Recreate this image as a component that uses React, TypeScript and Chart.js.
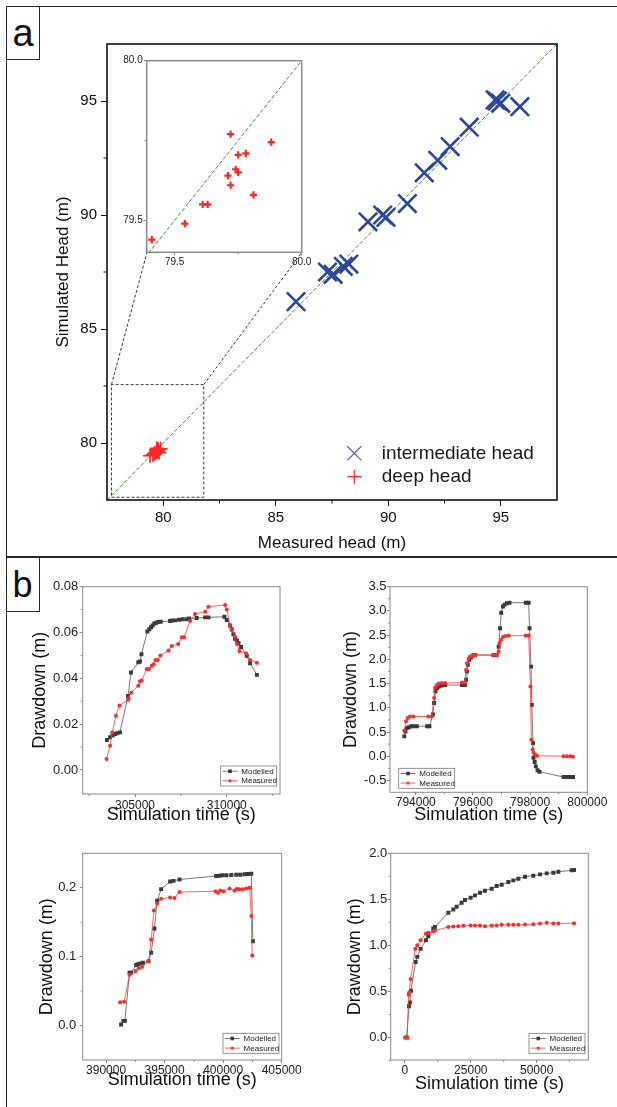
import React, { useEffect, useRef } from 'react';
import { Chart, registerables } from 'chart.js';

Chart.register(...registerables);

const FONT = "'Liberation Sans', Arial, Helvetica, sans-serif";
Chart.defaults.font.family = FONT;

// ---------------- Panel a data ----------------
const intermediateMeasured = [85.9, 87.3, 87.55, 88.0, 88.25, 89.1, 89.75, 89.9, 90.85, 91.6, 92.2, 92.75, 93.6, 94.75, 94.85, 95.0, 95.85];
const intermediateSimulated = [86.2, 87.5, 87.4, 87.75, 87.85, 89.7, 90.0, 89.9, 90.5, 91.85, 92.4, 93.0, 93.85, 95.05, 95.0, 94.9, 94.75];
const deepMeasured = [79.41, 79.54, 79.61, 79.63, 79.72, 79.88, 79.75, 79.78, 79.74, 79.75, 79.71, 79.72, 79.81];
const deepSimulated = [79.44, 79.49, 79.55, 79.55, 79.77, 79.745, 79.705, 79.71, 79.66, 79.65, 79.64, 79.61, 79.58];
const oneToOne = [77.5, 97.5];
const mainRange = [77.5, 97.5];
const mainTicks = [80, 85, 90, 95];
const mainMinor = [82.5, 87.5, 92.5];
const zoomBoxX = [77.7, 81.8];
const zoomBoxY = [77.62, 82.56];
const insetCornerX = [79.28, 86.17];
const insetCornerY = 88.37;
const insetXRange = [79.39, 80.0];
const insetYRange = [79.4, 80.0];
const insetTicks = [79.5, 80.0];
const insetMinor = [79.75];

// ---------------- Panel b data ----------------
const tlModelT = [303470, 303640, 303780, 303910, 304040, 304180, 304620, 304780, 305180, 305270, 305350, 305670, 305780, 305870, 305960, 306050, 306160, 306270, 306400, 306910, 307000, 307180, 307400, 307600, 307820, 307950, 308360, 308820, 309000, 309870, 310000, 310180, 310270, 310360, 310450, 310550, 310640, 310780, 311090, 311270, 311640];
const tlModelD = [0.0131, 0.0143, 0.015, 0.0157, 0.016, 0.0164, 0.0323, 0.0425, 0.047, 0.0473, 0.0505, 0.0604, 0.0614, 0.0623, 0.0631, 0.0639, 0.0643, 0.0646, 0.0647, 0.065, 0.0652, 0.0653, 0.0656, 0.0658, 0.0658, 0.0661, 0.0663, 0.0666, 0.0666, 0.0669, 0.0655, 0.063, 0.0614, 0.0592, 0.0573, 0.0565, 0.0553, 0.0537, 0.0498, 0.0466, 0.0415];
const tlMeasT = [303450, 303640, 303760, 303960, 304150, 304620, 304650, 304800, 305180, 305270, 305360, 305640, 305760, 305910, 306000, 306110, 306240, 306380, 306820, 307000, 307350, 307550, 307670, 308000, 308270, 308820, 309000, 309910, 310000, 310180, 310270, 310450, 310550, 310690, 311050, 311270, 311640];
const tlMeasD = [0.0048, 0.0106, 0.0164, 0.0237, 0.0281, 0.0306, 0.0313, 0.0338, 0.0368, 0.0387, 0.039, 0.0441, 0.0441, 0.0455, 0.0461, 0.048, 0.048, 0.05, 0.0521, 0.0541, 0.055, 0.0579, 0.0579, 0.065, 0.0681, 0.0691, 0.0713, 0.072, 0.0701, 0.0633, 0.0611, 0.0582, 0.055, 0.0519, 0.0509, 0.048, 0.0468];
const tlXTicks = [305000, 310000];
const tlXMinor = [302500, 307500, 312500];
const tlYTicks = [0, 0.02, 0.04, 0.06, 0.08];
const tlYMinor = [0.01, 0.03, 0.05, 0.07];

const trModelT = [793600, 793640, 793690, 793760, 793840, 793920, 794040, 794400, 794480, 794600, 794640, 794690, 794740, 794810, 794910, 795030, 795620, 795720, 795760, 795790, 795820, 795870, 795930, 796000, 796080, 796720, 796830, 796900, 796950, 796990, 797050, 797110, 797190, 797280, 797850, 797950, 797980, 798030, 798060, 798100, 798120, 798160, 798200, 798260, 798330, 799170, 799290, 799410, 799500];
const trModelD = [0.41, 0.51, 0.58, 0.6, 0.62, 0.62, 0.62, 0.62, 0.62, 0.86, 1.1, 1.34, 1.41, 1.44, 1.46, 1.47, 1.47, 1.47, 1.58, 1.75, 1.89, 1.99, 2.04, 2.08, 2.09, 2.09, 2.09, 2.26, 2.64, 2.96, 3.09, 3.13, 3.16, 3.17, 3.17, 3.17, 2.64, 1.85, 1.06, 0.27, -0.03, -0.12, -0.21, -0.29, -0.32, -0.43, -0.43, -0.43, -0.43];
const trMeasT = [793600, 793660, 793720, 793800, 793920, 794440, 794560, 794640, 794680, 794740, 794810, 794910, 795030, 795620, 795720, 795760, 795790, 795850, 795900, 795990, 796080, 796720, 796830, 796900, 796930, 796980, 797050, 797130, 797250, 797850, 797950, 798010, 798040, 798090, 798120, 798180, 798240, 799170, 799290, 799410, 799500];
const trMeasD = [0.53, 0.72, 0.79, 0.82, 0.82, 0.82, 0.82, 1.2, 1.42, 1.47, 1.5, 1.51, 1.51, 1.52, 1.52, 1.78, 1.92, 2.02, 2.06, 2.08, 2.09, 2.09, 2.09, 2.16, 2.33, 2.4, 2.46, 2.48, 2.49, 2.49, 2.49, 1.44, 0.34, 0.14, 0.07, 0.03, 0.01, 0.0, 0.0, 0.0, -0.01];
const trXTicks = [794000, 796000, 798000, 800000];
const trXMinor = [795000, 797000, 799000];
const trYTicks = [-0.5, 0, 0.5, 1, 1.5, 2, 2.5, 3, 3.5];
const trYMinor = [-0.25, 0.25, 0.75, 1.25, 1.75, 2.25, 2.75, 3.25];

const blModelT = [391280, 391480, 391600, 392000, 392140, 392570, 392710, 392910, 393140, 393620, 393850, 394130, 394360, 394700, 395470, 395760, 396270, 399400, 399690, 399920, 400260, 400690, 401120, 401460, 401830, 402110, 402400, 402540];
const blModelD = [0.0015, 0.0068, 0.0068, 0.0765, 0.0765, 0.088, 0.089, 0.09, 0.091, 0.0935, 0.1056, 0.141, 0.181, 0.198, 0.209, 0.21, 0.212, 0.217, 0.2175, 0.218, 0.218, 0.2185, 0.219, 0.219, 0.2195, 0.22, 0.2203, 0.1225];
const blMeasT = [391200, 391540, 392000, 392510, 392790, 393080, 393620, 393850, 394080, 394360, 394700, 395470, 395840, 396270, 399350, 399550, 399750, 400030, 400550, 400970, 401170, 401400, 401690, 401970, 402260, 402400, 402480];
const blMeasD = [0.0339, 0.0344, 0.0736, 0.079, 0.0833, 0.0852, 0.093, 0.125, 0.167, 0.177, 0.184, 0.186, 0.185, 0.1937, 0.195, 0.1927, 0.196, 0.195, 0.199, 0.196, 0.1985, 0.198, 0.198, 0.199, 0.2, 0.159, 0.1017];
const blXTicks = [390000, 395000, 400000, 405000];
const blXMinor = [392500, 397500, 402500];
const blYTicks = [0, 0.1, 0.2];
const blYMinor = [0.05, 0.15];

const brModelT = [630, 1520, 1900, 2280, 4050, 4680, 5950, 7980, 8860, 10760, 11390, 16460, 18360, 19620, 21520, 22790, 24940, 26590, 28490, 30380, 32920, 34820, 36710, 39250, 41150, 43040, 45580, 48740, 51270, 53810, 56340, 58240, 63300, 64190];
const brModelD = [0, 0.338, 0.38, 0.508, 0.82, 0.875, 0.962, 1.056, 1.1, 1.183, 1.2, 1.354, 1.39, 1.419, 1.463, 1.492, 1.517, 1.543, 1.572, 1.594, 1.615, 1.644, 1.659, 1.688, 1.706, 1.724, 1.746, 1.757, 1.771, 1.782, 1.789, 1.8, 1.815, 1.818];
const brMeasT = [0, 890, 1390, 1650, 2150, 3930, 4680, 5950, 7980, 8990, 10760, 11390, 16460, 18360, 20250, 22150, 24940, 26590, 28490, 30380, 32920, 34820, 36710, 39250, 41150, 43040, 45580, 48740, 51270, 53810, 56340, 58240, 64190];
const brMeasD = [0, 0, 0.465, 0.49, 0.635, 0.962, 1.0, 1.056, 1.129, 1.136, 1.154, 1.161, 1.2, 1.205, 1.209, 1.212, 1.216, 1.216, 1.216, 1.209, 1.216, 1.216, 1.223, 1.223, 1.223, 1.223, 1.227, 1.23, 1.238, 1.245, 1.238, 1.238, 1.241];
const brXTicks = [0, 25000, 50000];
const brXMinor = [12500, 37500, 62500];
const brYTicks = [0, 0.5, 1, 1.5, 2];
const brYMinor = [-0.25, 0.25, 0.75, 1.25, 1.75];

// ---------------- styles ----------------
const BLUE = '#2c46a0';
const RED = '#ff2626';
const GREEN = '#3f8f3f';
const MODEL = '#3a3a3a';
const MEAS = '#ff2a2a';

type Pt = { x: number; y: number };
const zip = (xs: number[], ys: number[]): Pt[] => xs.map((x, i) => ({ x, y: ys[i] }));

interface AxisSpec {
  pos: 'left' | 'bottom';
  min: number;
  max: number;
  ticks: number[];
  fmt: (v: number) => string;
  size: number;
  fontSize: number;
  tickLen: number;
  pad: number;
  tickColor: string;
  labelColor: string;
  title?: string;
  titleSize?: number;
  titlePad?: number;
}

function axis(a: AxisSpec): any {
  const horizontal = a.pos === 'bottom';
  return {
    type: 'linear',
    position: a.pos,
    min: a.min,
    max: a.max,
    afterBuildTicks: (s: any) => {
      s.ticks = a.ticks.map((v) => ({ value: v }));
    },
    afterFit: (s: any) => {
      if (horizontal) s.height = a.size;
      else s.width = a.size;
    },
    ticks: {
      autoSkip: false,
      maxRotation: 0,
      minRotation: 0,
      padding: a.pad,
      color: a.labelColor,
      font: { size: a.fontSize, family: FONT },
      callback: (v: any) => a.fmt(Number(v)),
    },
    grid: { drawOnChartArea: false, drawTicks: true, tickLength: a.tickLen, color: a.tickColor, lineWidth: 1 },
    border: { display: false },
    title: a.title
      ? {
          display: true,
          text: a.title,
          color: '#111',
          font: { size: a.titleSize, family: FONT },
          padding: horizontal ? { top: 0, bottom: a.titlePad } : { top: a.titlePad, bottom: 0 },
        }
      : { display: false },
  };
}

function framePlugin(o: { color: string; width: number; fill?: string; minorX: number[]; minorY: number[]; minorLen: number; minorColor: string }) {
  return {
    id: 'frame',
    beforeDraw(chart: any) {
      if (!o.fill) return;
      const { left, top, width, height } = chart.chartArea;
      const ctx = chart.ctx;
      ctx.save();
      ctx.fillStyle = o.fill;
      ctx.fillRect(left, top, width, height);
      ctx.restore();
    },
    afterDraw(chart: any) {
      const { left, top, right, bottom } = chart.chartArea;
      const ctx = chart.ctx;
      ctx.save();
      ctx.strokeStyle = o.minorColor;
      ctx.lineWidth = 1;
      ctx.beginPath();
      o.minorX.forEach((v) => {
        const p = chart.scales.x.getPixelForValue(v);
        ctx.moveTo(p, bottom);
        ctx.lineTo(p, bottom + o.minorLen);
      });
      o.minorY.forEach((v) => {
        const p = chart.scales.y.getPixelForValue(v);
        ctx.moveTo(left, p);
        ctx.lineTo(left - o.minorLen, p);
      });
      ctx.stroke();
      ctx.strokeStyle = o.color;
      ctx.lineWidth = o.width;
      ctx.strokeRect(left, top, right - left, bottom - top);
      ctx.restore();
    },
  };
}

function headLegend(o: { x: number; y: number; gap: number; textDx: number; fontSize: number; items: { ds: number; style: 'x' | '+'; r: number; w: number; color: string }[] }) {
  return {
    id: 'headLegend',
    afterDraw(chart: any) {
      const ctx = chart.ctx;
      ctx.save();
      ctx.font = `${o.fontSize}px ${FONT}`;
      ctx.textBaseline = 'middle';
      ctx.textAlign = 'left';
      o.items.forEach((it, i) => {
        const cx = o.x;
        const cy = o.y + i * o.gap;
        ctx.strokeStyle = it.color;
        ctx.lineWidth = it.w;
        ctx.beginPath();
        if (it.style === 'x') {
          const d = it.r * Math.SQRT1_2;
          ctx.moveTo(cx - d, cy - d);
          ctx.lineTo(cx + d, cy + d);
          ctx.moveTo(cx - d, cy + d);
          ctx.lineTo(cx + d, cy - d);
        } else {
          ctx.moveTo(cx - it.r, cy);
          ctx.lineTo(cx + it.r, cy);
          ctx.moveTo(cx, cy - it.r);
          ctx.lineTo(cx, cy + it.r);
        }
        ctx.stroke();
        ctx.fillStyle = '#1a1a1a';
        ctx.fillText(chart.data.datasets[it.ds].label, cx + o.textDx, cy);
      });
      ctx.restore();
    },
  };
}

function subLegend(o: { corner: 'br' | 'bl'; dx: number; dy: number }) {
  return {
    id: 'subLegend',
    afterDraw(chart: any) {
      const { ctx, chartArea } = chart;
      const w = 56;
      const h = 20;
      const x0 = o.corner === 'br' ? chartArea.right - o.dx - w : chartArea.left + o.dx;
      const y0 = chartArea.bottom - o.dy - h;
      ctx.save();
      ctx.fillStyle = '#fff';
      ctx.fillRect(x0, y0, w, h);
      ctx.strokeStyle = '#7a7a7a';
      ctx.lineWidth = 0.8;
      ctx.strokeRect(x0, y0, w, h);
      ctx.font = `8px ${FONT}`;
      ctx.textBaseline = 'middle';
      ctx.textAlign = 'left';
      chart.data.datasets.forEach((ds: any, i: number) => {
        const y = y0 + 5.2 + i * 9.6;
        ctx.strokeStyle = ds.borderColor;
        ctx.lineWidth = 0.8;
        ctx.beginPath();
        ctx.moveTo(x0 + 1.8, y);
        ctx.lineTo(x0 + 16.8, y);
        ctx.stroke();
        ctx.fillStyle = ds.pointBackgroundColor;
        ctx.beginPath();
        if (ds.pointStyle === 'rect') ctx.rect(x0 + 9.3 - 1.8, y - 1.8, 3.6, 3.6);
        else ctx.arc(x0 + 9.3, y, 1.6, 0, Math.PI * 2);
        ctx.fill();
        ctx.fillStyle = '#222';
        ctx.fillText(ds.label, x0 + 20.6, y + 0.3);
      });
      ctx.restore();
    },
  };
}

function mainConfig(): any {
  const box = [
    { x: zoomBoxX[0], y: zoomBoxY[0] },
    { x: zoomBoxX[1], y: zoomBoxY[0] },
    { x: zoomBoxX[1], y: zoomBoxY[1] },
    { x: zoomBoxX[0], y: zoomBoxY[1] },
    { x: zoomBoxX[0], y: zoomBoxY[0] },
  ];
  const dashed = { showLine: true, pointRadius: 0, borderColor: '#3a3a3a', borderWidth: 1, borderDash: [3, 2], order: 6 };
  return {
    type: 'scatter',
    data: {
      datasets: [
        { label: 'intermediate head', data: zip(intermediateMeasured, intermediateSimulated), pointStyle: 'crossRot', pointRadius: 13, pointBorderWidth: 2.6, borderWidth: 2.6, borderColor: BLUE, backgroundColor: BLUE, order: 0 },
        { label: 'deep head', data: zip(deepMeasured, deepSimulated), pointStyle: 'cross', pointRadius: 7, pointBorderWidth: 1.7, borderWidth: 1.7, borderColor: RED, backgroundColor: RED, order: 1 },
        { label: '1:1', data: oneToOne.map((v) => ({ x: v, y: v })), showLine: true, pointRadius: 0, borderColor: GREEN, borderWidth: 1, borderDash: [4, 2], order: 5 },
        { label: 'zoom', data: box, ...dashed },
        { label: 'c1', data: [{ x: zoomBoxX[0], y: zoomBoxY[1] }, { x: insetCornerX[0], y: insetCornerY }], ...dashed },
        { label: 'c2', data: [{ x: zoomBoxX[1], y: zoomBoxY[1] }, { x: insetCornerX[1], y: insetCornerY }], ...dashed },
      ],
    },
    options: {
      responsive: false,
      animation: false,
      devicePixelRatio: 1,
      events: [],
      layout: { padding: { left: 0, top: 44, right: 60, bottom: 0 } },
      plugins: { legend: { display: false }, tooltip: { enabled: false } },
      scales: {
        x: axis({ pos: 'bottom', min: mainRange[0], max: mainRange[1], ticks: mainTicks, fmt: (v) => String(v), size: 56, fontSize: 15, tickLen: 6, pad: 2.5, tickColor: '#111', labelColor: '#111', title: 'Measured head (m)', titleSize: 17, titlePad: 2.8 }),
        y: axis({ pos: 'left', min: mainRange[0], max: mainRange[1], ticks: mainTicks, fmt: (v) => String(v), size: 107, fontSize: 15, tickLen: 6, pad: 4, tickColor: '#111', labelColor: '#111', title: 'Simulated Head (m)', titleSize: 17, titlePad: 52.8 }),
      },
    },
    plugins: [
      framePlugin({ color: '#111', width: 1.6, minorX: mainMinor, minorY: mainMinor, minorLen: 3.5, minorColor: '#111' }),
      headLegend({
        x: 354.3,
        y: 453.3,
        gap: 23.4,
        textDx: 27.4,
        fontSize: 19,
        items: [
          { ds: 0, style: 'x', r: 10, w: 1.2, color: '#4a5cc4' },
          { ds: 1, style: '+', r: 7, w: 1.2, color: RED },
        ],
      }),
    ],
  };
}

function insetConfig(): any {
  return {
    type: 'scatter',
    data: {
      datasets: [
        { label: 'deep head', data: zip(deepMeasured, deepSimulated), pointStyle: 'cross', pointRadius: 3.6, pointBorderWidth: 2.2, borderWidth: 2.2, borderColor: RED, backgroundColor: RED, order: 0 },
        { label: '1:1', data: oneToOne.map((v) => ({ x: v, y: v })), showLine: true, pointRadius: 0, borderColor: GREEN, borderWidth: 1, borderDash: [4, 2], order: 5 },
      ],
    },
    options: {
      responsive: false,
      animation: false,
      devicePixelRatio: 1,
      events: [],
      layout: { padding: { left: 0, top: 10.7, right: 18.3, bottom: 0 } },
      plugins: { legend: { display: false }, tooltip: { enabled: false } },
      scales: {
        x: axis({ pos: 'bottom', min: insetXRange[0], max: insetXRange[1], ticks: insetTicks, fmt: (v) => v.toFixed(1), size: 19.7, fontSize: 10, tickLen: 3, pad: 1, tickColor: '#888', labelColor: '#222' }),
        y: axis({ pos: 'left', min: insetYRange[0], max: insetYRange[1], ticks: insetTicks, fmt: (v) => v.toFixed(1), size: 36.7, fontSize: 10, tickLen: 3, pad: 1, tickColor: '#888', labelColor: '#222' }),
      },
    },
    plugins: [framePlugin({ color: '#8a8a8a', width: 1.5, fill: '#ffffff', minorX: insetMinor, minorY: insetMinor, minorLen: 2, minorColor: '#888' })],
  };
}

interface SubSpec {
  modelT: number[];
  modelD: number[];
  measT: number[];
  measD: number[];
  xMin: number;
  xMax: number;
  yMin: number;
  yMax: number;
  xTicks: number[];
  xMinor: number[];
  yTicks: number[];
  yMinor: number[];
  yFmt: (v: number) => string;
  padTop: number;
  padRight: number;
  yWidth: number;
  xHeight: number;
  yPad: number;
  xPad: number;
  yTitlePad: number;
  xTitlePad: number;
  legend: { corner: 'br' | 'bl'; dx: number; dy: number };
}

function subConfig(s: SubSpec): any {
  return {
    type: 'scatter',
    data: {
      datasets: [
        { label: 'Modelled', data: zip(s.modelT, s.modelD), showLine: true, borderColor: '#555555', borderWidth: 0.8, pointStyle: 'rect', pointRadius: 2.8, pointBackgroundColor: MODEL, pointBorderColor: MODEL, pointBorderWidth: 0, order: 1 },
        { label: 'Measured', data: zip(s.measT, s.measD), showLine: true, borderColor: '#ff3b3b', borderWidth: 0.8, pointStyle: 'circle', pointRadius: 2, pointBackgroundColor: MEAS, pointBorderColor: MEAS, pointBorderWidth: 0, order: 0 },
      ],
    },
    options: {
      responsive: false,
      animation: false,
      devicePixelRatio: 1,
      events: [],
      layout: { padding: { left: 0, top: s.padTop, right: s.padRight, bottom: 0 } },
      plugins: { legend: { display: false }, tooltip: { enabled: false } },
      scales: {
        x: axis({ pos: 'bottom', min: s.xMin, max: s.xMax, ticks: s.xTicks, fmt: (v) => String(v), size: s.xHeight, fontSize: 12, tickLen: 3, pad: s.xPad, tickColor: '#888', labelColor: '#222', title: 'Simulation time (s)', titleSize: 18, titlePad: s.xTitlePad }),
        y: axis({ pos: 'left', min: s.yMin, max: s.yMax, ticks: s.yTicks, fmt: s.yFmt, size: s.yWidth, fontSize: 13, tickLen: 3, pad: s.yPad, tickColor: '#888', labelColor: '#222', title: 'Drawdown (m)', titleSize: 18, titlePad: s.yTitlePad }),
      },
    },
    plugins: [
      framePlugin({ color: '#8a8a8a', width: 1, minorX: s.xMinor, minorY: s.yMinor, minorLen: 2, minorColor: '#888' }),
      subLegend(s.legend),
    ],
  };
}

function ChartBox(props: { left: number; top: number; width: number; height: number; build: () => any }) {
  const ref = useRef<HTMLCanvasElement | null>(null);
  useEffect(() => {
    if (!ref.current) return;
    const chart = new Chart(ref.current, props.build());
    return () => chart.destroy();
  }, []);
  return (
    <canvas
      ref={ref}
      width={props.width}
      height={props.height}
      style={{ position: 'absolute', left: props.left, top: props.top, width: props.width, height: props.height }}
    />
  );
}

const LINE = '#2a2a2a';

export default function App() {
  return (
    <div style={{ position: 'absolute', left: 0, top: 0, width: 617, height: 1107, overflow: 'hidden', background: '#fff', fontFamily: FONT }}>
      <div style={{ position: 'absolute', left: 6, top: 6, width: 700, height: 1200, border: `1.5px solid ${LINE}`, boxSizing: 'border-box' }} />
      <div style={{ position: 'absolute', left: 6, top: 556.3, width: 700, height: 2, background: LINE }} />
      <div style={{ position: 'absolute', left: 6, top: 6, width: 34, height: 54, border: `1.5px solid ${LINE}`, boxSizing: 'border-box' }} />
      <div style={{ position: 'absolute', left: 6, top: 556.3, width: 34, height: 56, border: `1.5px solid ${LINE}`, boxSizing: 'border-box' }} />
      <span style={{ position: 'absolute', left: 12.6, top: 14, fontSize: 38, lineHeight: '38px', color: '#111' }}>a</span>
      <span style={{ position: 'absolute', left: 12.6, top: 566.8, fontSize: 36, lineHeight: '36px', color: '#111' }}>b</span>

      <ChartBox left={0} top={0} width={617} height={556} build={mainConfig} />
      <ChartBox left={110} top={50} width={210} height={222} build={insetConfig} />

      <ChartBox
        left={10}
        top={570}
        width={290}
        height={260}
        build={() =>
          subConfig({
            modelT: tlModelT, modelD: tlModelD, measT: tlMeasT, measD: tlMeasD,
            xMin: 302150, xMax: 312900, yMin: -0.0105, yMax: 0.08,
            xTicks: tlXTicks, xMinor: tlXMinor, yTicks: tlYTicks, yMinor: tlYMinor,
            yFmt: (v) => v.toFixed(2),
            padTop: 16.7, padRight: 20, yWidth: 72.7, xHeight: 36,
            yPad: 1.5, xPad: 1.3, yTitlePad: 19.2, xTitlePad: 3.7,
            legend: { corner: 'br', dx: 3.3, dy: 8 },
          })
        }
      />
      <ChartBox
        left={310}
        top={570}
        width={305}
        height={260}
        build={() =>
          subConfig({
            modelT: trModelT, modelD: trModelD, measT: trMeasT, measD: trMeasD,
            xMin: 793100, xMax: 800000, yMin: -0.745, yMax: 3.5,
            xTicks: trXTicks, xMinor: trXMinor, yTicks: trYTicks, yMinor: trYMinor,
            yFmt: (v) => v.toFixed(1),
            padTop: 16.7, padRight: 27.7, yWidth: 80, xHeight: 37.7,
            yPad: 0.5, xPad: 0.5, yTitlePad: 30.2, xTitlePad: 3.7,
            legend: { corner: 'bl', dx: 8.7, dy: 4 },
          })
        }
      />
      <ChartBox
        left={10}
        top={836}
        width={295}
        height={265}
        build={() =>
          subConfig({
            modelT: blModelT, modelD: blModelD, measT: blMeasT, measD: blMeasD,
            xMin: 388000, xMax: 405000, yMin: -0.05, yMax: 0.25,
            xTicks: blXTicks, xMinor: blXMinor, yTicks: blYTicks, yMinor: blYMinor,
            yFmt: (v) => v.toFixed(1),
            padTop: 17.3, padRight: 23.3, yWidth: 72.7, xHeight: 41,
            yPad: 3.5, xPad: 0.3, yTitlePad: 26.2, xTitlePad: 10.2,
            legend: { corner: 'br', dx: 2.7, dy: 6.7 },
          })
        }
      />
      <ChartBox
        left={310}
        top={836}
        width={305}
        height={265}
        build={() =>
          subConfig({
            modelT: brModelT, modelD: brModelD, measT: brMeasT, measD: brMeasD,
            xMin: -5400, xMax: 69600, yMin: -0.245, yMax: 2.0,
            xTicks: brXTicks, xMinor: brXMinor, yTicks: brYTicks, yMinor: brYMinor,
            yFmt: (v) => v.toFixed(1),
            padTop: 17.3, padRight: 26.7, yWidth: 80.7, xHeight: 41,
            yPad: 0.5, xPad: 0.8, yTitlePad: 34.2, xTitlePad: 6.2,
            legend: { corner: 'br', dx: 3.3, dy: 6.7 },
          })
        }
      />
    </div>
  );
}
